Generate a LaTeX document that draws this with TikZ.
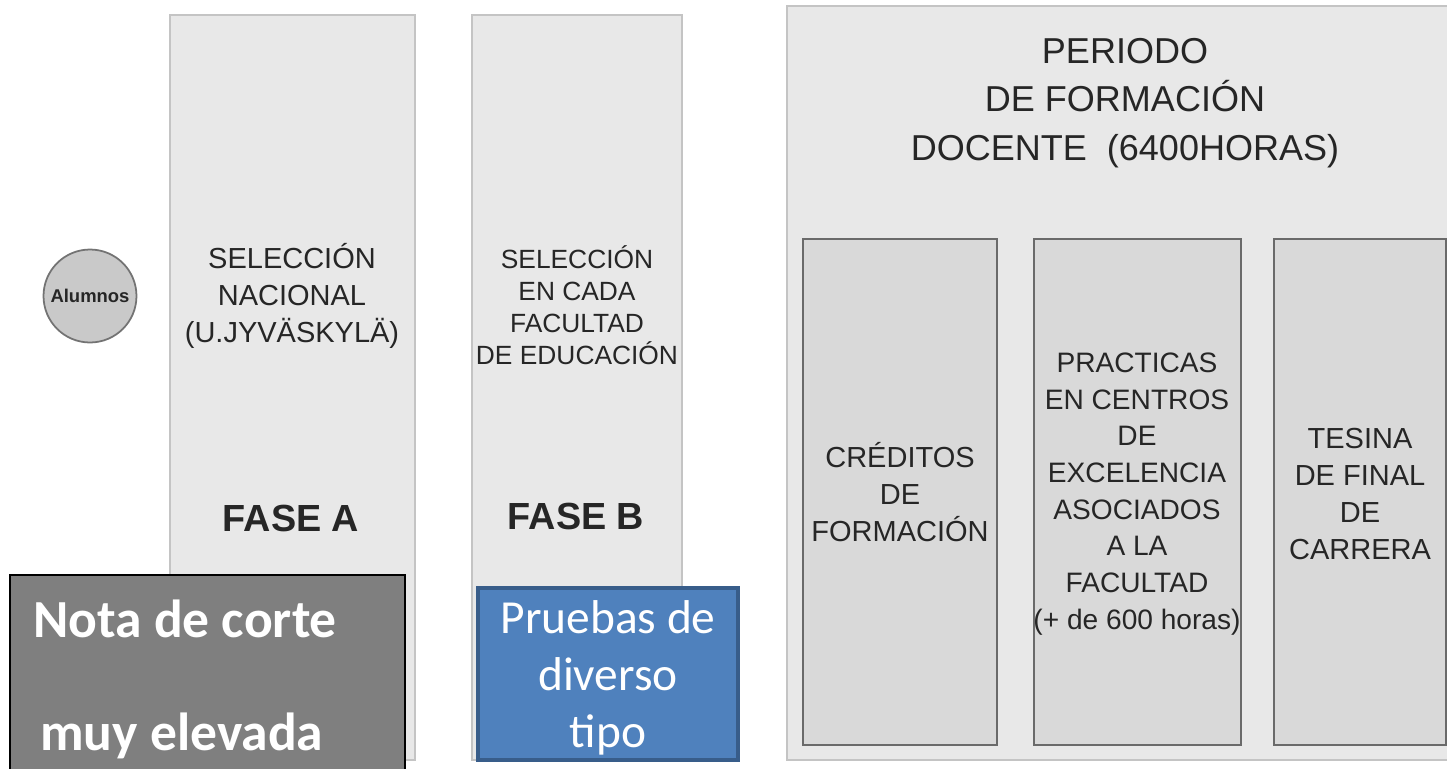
\documentclass[tikz,border=0pt]{standalone}
\usepackage{fontspec}
\setmainfont{Liberation Sans}
\newfontfamily\carlito{Carlito}
\usetikzlibrary{positioning}

\definecolor{colfill}{HTML}{E8E8E8}
\definecolor{colborder}{HTML}{C4C4C4}
\definecolor{innerfill}{HTML}{D9D9D9}
\definecolor{innerborder}{HTML}{6A6A6A}
\definecolor{notafill}{HTML}{7F7F7F}
\definecolor{pruebafill}{HTML}{4F81BD}
\definecolor{pruebaborder}{HTML}{385D8A}
\definecolor{inktext}{HTML}{262626}

\begin{document}
\begin{tikzpicture}[x=0.02cm, y=-0.02cm,
        column_style/.style={rectangle, draw=colborder, fill=colfill, line width=1.6pt, inner sep=0pt},
        inner_style/.style={rectangle, draw=innerborder, fill=innerfill, line width=1.1pt, inner sep=0pt},
        label_style/.style={align=center, text=inktext, inner sep=0pt},
        fase_style/.style={text=inktext, font=\fontsize{21.5}{25}\selectfont\bfseries, inner sep=0pt},
        nota_style/.style={anchor=base west, text=white, font=\carlito\fontsize{30.5}{32}\selectfont\bfseries, inner sep=0pt}]

        \useasboundingbox (0,0) rectangle (1447,768);

        % alumnos
        \node [circle, draw=gray!90!black, fill=black!21, line width=1pt, minimum size=1.86cm, inner sep=0pt,
               font=\fontsize{10.5}{12}\selectfont\bfseries, text=inktext] (alumnos) at (90,296) {Alumnos};

        % fase A
        \node [column_style, minimum width=4.9cm, minimum height=14.9cm] (colA) at (292.5,387.5) {};
        \node [label_style, font=\fontsize{16.5}{21}\selectfont] (selA) at (292,296) {SELECCIÓN\\NACIONAL\\(U.JYVÄSKYLÄ)};
        \node [fase_style] (faseA) at (291,518) {FASE A};

        % fase B
        \node [column_style, minimum width=4.2cm, minimum height=14.9cm] (colB) at (577,387.5) {};
        \node [label_style, font=\fontsize{15}{18.2}\selectfont] (selB) at (577,305) {SELECCIÓN\\EN CADA\\FACULTAD\\DE EDUCACIÓN};
        \node [fase_style] (faseB) at (576,516) {FASE B};

        % periodo de formacion
        \node [column_style, minimum width=13.46cm, minimum height=15.08cm] (periodo) at (1123.5,383) {};
        \node [label_style, font=\fontsize{20.5}{27.6}\selectfont] (titulo) at (1125,103) {PERIODO\\DE FORMACIÓN\\DOCENTE\ \ (6400HORAS)};

        \node [inner_style, minimum width=3.88cm, minimum height=10.12cm] (creditos) at (900,492) {};
        \node [inner_style, minimum width=4.14cm, minimum height=10.12cm] (practicas) at (1137.5,492) {};
        \node [inner_style, minimum width=3.44cm, minimum height=10.12cm] (tesina) at (1360,492) {};

        \node [label_style, font=\fontsize{16.5}{21.3}\selectfont] (credT) at (creditos.center) {CRÉDITOS\\DE\\FORMACIÓN};
        \node [label_style, font=\fontsize{16}{20.9}\selectfont] (pracT) at (1137,494) {PRACTICAS\\EN CENTROS\\DE\\EXCELENCIA\\ASOCIADOS\\A LA\\FACULTAD\\(+ de 600 horas)};
        \node [label_style, font=\fontsize{16.5}{21.2}\selectfont] (tesT) at (1360,494) {TESINA\\DE FINAL\\DE\\CARRERA};

        % notas
        \node [rectangle, draw=black, fill=notafill, line width=1pt, minimum width=7.9cm, minimum height=4.3cm, inner sep=0pt] (nota) at (207.5,682.5) {};
        \node [nota_style] (notaUno) at (33,637) {Nota de corte};
        \node [nota_style] (notaDos) at (40,750) {muy elevada};

        \node [rectangle, draw=pruebaborder, fill=pruebafill, line width=2pt, minimum width=5.2cm, minimum height=3.44cm,
               inner sep=0pt, text=white] (pruebas) at (608,674) {};
        \node [align=center, text=white, inner sep=0pt, font=\carlito\fontsize{27}{32.4}\selectfont] (pruebasT) at (608,678) {Pruebas de\\diverso\\tipo};

        \end{tikzpicture}
\end{document}
